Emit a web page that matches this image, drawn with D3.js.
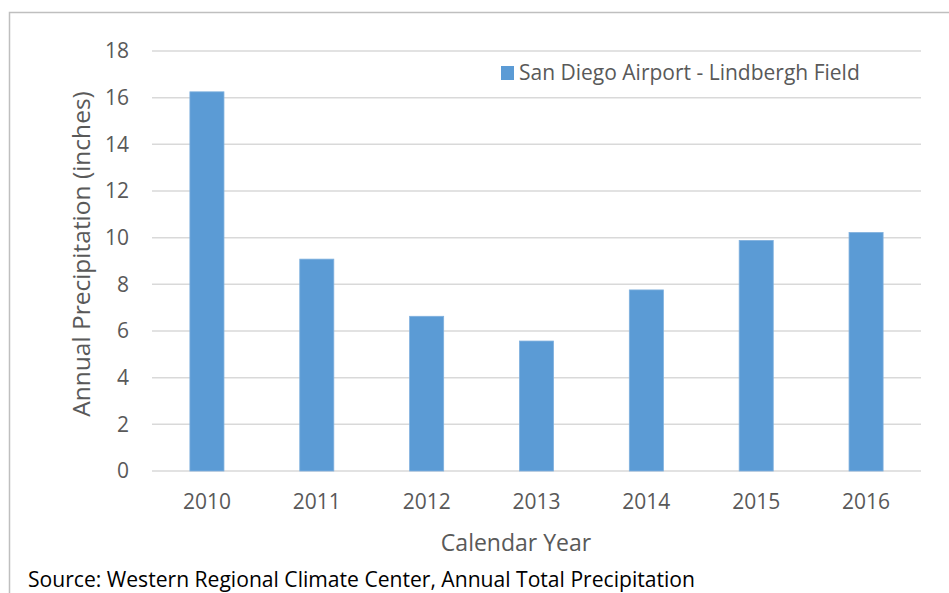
<!DOCTYPE html>
<html>
<head>
<meta charset="utf-8">
<script src="https://cdn.jsdelivr.net/npm/d3@7"></script>
<style>
  html, body { margin: 0; padding: 0; background: #fff; }
  #chart { width: 949px; height: 593px; overflow: hidden; }
  text { font-family: "Open Sans", sans-serif; }
</style>
</head>
<body>
<div id="chart"></div>
<script>
// Data
const years = ['2010', '2011', '2012', '2013', '2014', '2015', '2016'];
const precip = [16.25, 9.08, 6.63, 5.57, 7.76, 9.88, 10.22];
const yTicks = [0, 2, 4, 6, 8, 10, 12, 14, 16, 18];
const seriesName = 'San Diego Airport - Lindbergh Field';

const width = 949, height = 593;
const plot = { left: 152, right: 921, top: 51, bottom: 471 };

const svg = d3.select('#chart')
  .append('svg')
  .attr('width', width)
  .attr('height', height);

// outer frame (only left and top edges show)
svg.append('path')
  .attr('d', `M9.5,${height} V12.5 H${width}`)
  .attr('fill', 'none')
  .attr('stroke', '#bfbfbf')
  .attr('stroke-width', 1.5);

const x = d3.scaleBand()
  .domain(years)
  .range([plot.left, plot.right])
  .paddingInner(0.69)
  .paddingOuter(0.345);

const y = d3.scaleLinear()
  .domain([0, 18])
  .range([plot.bottom, plot.top]);

// gridlines
svg.append('g')
  .selectAll('line')
  .data(yTicks)
  .join('line')
  .attr('x1', plot.left)
  .attr('x2', plot.right)
  .attr('y1', d => y(d))
  .attr('y2', d => y(d))
  .attr('stroke', '#d9d9d9')
  .attr('stroke-width', 1.5);

// y tick labels
svg.append('g')
  .selectAll('text')
  .data(yTicks)
  .join('text')
  .attr('x', 129)
  .attr('y', d => y(d))
  .attr('dy', '0.35em')
  .attr('text-anchor', 'end')
  .attr('font-size', 21)
  .attr('fill', '#595959')
  .text(d => d);

// bars
svg.append('g')
  .selectAll('rect')
  .data(precip)
  .join('rect')
  .attr('x', (d, i) => x(years[i]))
  .attr('y', d => y(d))
  .attr('width', x.bandwidth())
  .attr('height', d => y(0) - y(d))
  .attr('fill', '#5b9bd5')
  .attr('stroke', '#7fb0de')
  .attr('stroke-width', 0.8);

// x tick labels
svg.append('g')
  .selectAll('text')
  .data(years)
  .join('text')
  .attr('x', d => x(d) + x.bandwidth() / 2)
  .attr('y', 509)
  .attr('text-anchor', 'middle')
  .attr('font-size', 21)
  .attr('fill', '#595959')
  .text(d => d);

// axis titles
svg.append('text')
  .attr('x', 516)
  .attr('y', 551)
  .attr('text-anchor', 'middle')
  .attr('font-size', 23)
  .attr('fill', '#595959')
  .text('Calendar Year');

svg.append('text')
  .attr('transform', 'translate(90,254) rotate(-90)')
  .attr('text-anchor', 'middle')
  .attr('font-size', 24.5)
  .attr('fill', '#595959')
  .text('Annual Precipitation (inches)');

// legend
const legend = svg.append('g');
legend.append('rect')
  .attr('x', 501)
  .attr('y', 66)
  .attr('width', 13)
  .attr('height', 14)
  .attr('fill', '#5b9bd5');
legend.append('text')
  .attr('x', 519)
  .attr('y', 80)
  .attr('font-size', 21)
  .attr('fill', '#595959')
  .text(seriesName);

// source note
svg.append('text')
  .attr('x', 28)
  .attr('y', 587)
  .attr('font-size', 21.1)
  .attr('fill', '#000')
  .text('Source: Western Regional Climate Center, Annual Total Precipitation');
</script>
</body>
</html>
